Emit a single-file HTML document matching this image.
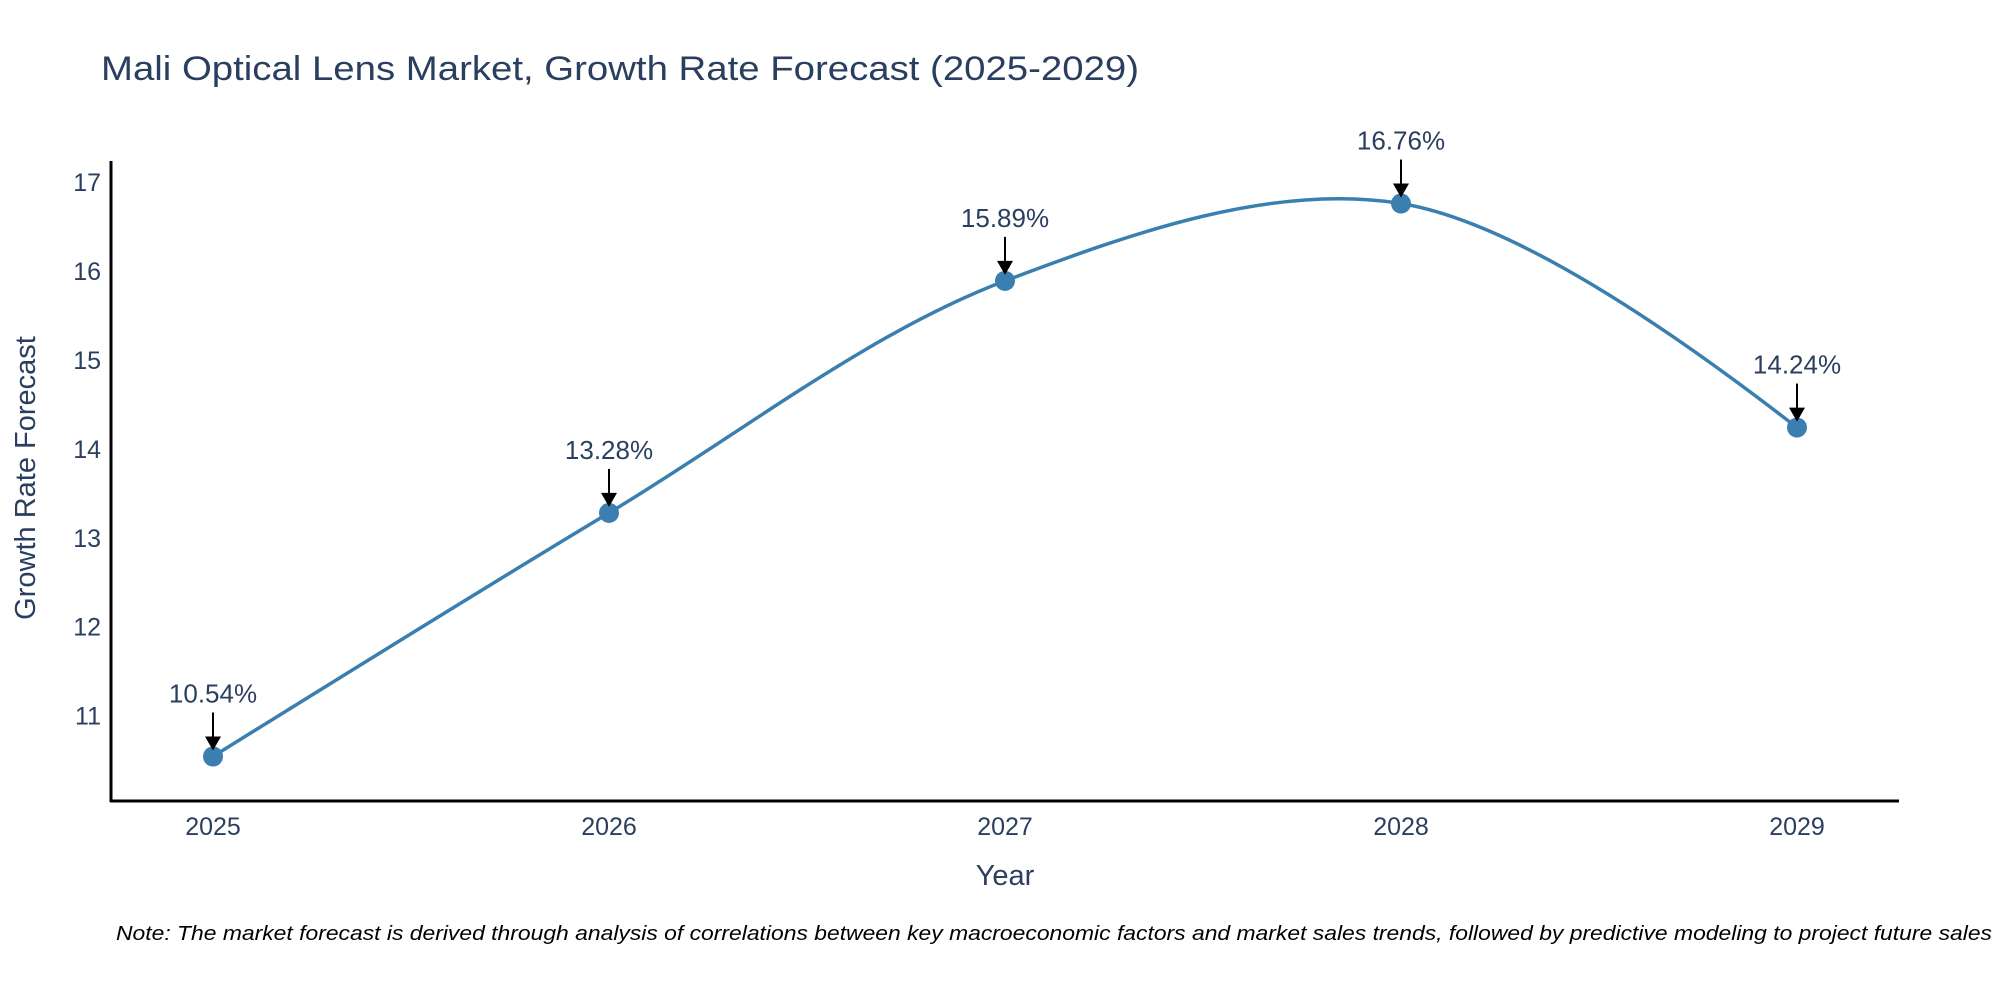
<!DOCTYPE html>
<html><head><meta charset="utf-8"><style>html,body{margin:0;padding:0;background:#fff}svg{display:block}text{font-family:"Liberation Sans",sans-serif}</style></head>
<body>
<svg id="chart" width="2000" height="1000" viewBox="0 0 2000 1000" xmlns="http://www.w3.org/2000/svg">
<text x="101" y="80" font-size="34" fill="#2a3f5f" textLength="1038" lengthAdjust="spacingAndGlyphs">Mali Optical Lens Market, Growth Rate Forecast (2025-2029)</text>
<g id="yticks"></g>
<g id="xticks"></g>
<line x1="111" y1="161" x2="111" y2="802" stroke="#000" stroke-width="3"/>
<line x1="110" y1="801" x2="1899" y2="801" stroke="#000" stroke-width="3"/>
<text transform="translate(35,478) rotate(-90)" text-anchor="middle" font-size="29" fill="#2a3f5f">Growth Rate Forecast</text>
<text x="1005" y="885" text-anchor="middle" font-size="29" fill="#2a3f5f">Year</text>
<g id="series"></g>
<g id="annots"></g>
<text x="116" y="940" font-size="20" font-style="italic" fill="#000" textLength="1876" lengthAdjust="spacingAndGlyphs">Note: The market forecast is derived through analysis of correlations between key macroeconomic factors and market sales trends, followed by predictive modeling to project future sales</text>
</svg>
<script>
const years = [2025, 2026, 2027, 2028, 2029];
const values = [10.54, 13.28, 15.89, 16.76, 14.24];
const labels = ["10.54%", "13.28%", "15.89%", "16.76%", "14.24%"];
const yTicks = [11, 12, 13, 14, 15, 16, 17];

const NS = "http://www.w3.org/2000/svg";
function xs(v){ return 213 + (v - 2025) * 396; }
function ys(v){ return 715.6 - (v - 11) * 88.9; }
function mk(tag, attrs, parent){ const e=document.createElementNS(NS,tag); for(const k in attrs) e.setAttribute(k,attrs[k]); parent.appendChild(e); return e; }

const yg=document.getElementById('yticks');
yTicks.forEach(t=>{
  const e=mk('text',{x:101,y:ys(t)+9,'text-anchor':'end','font-size':25,fill:'#2a3f5f'},yg);
  
  
  e.textContent=t;
});
const xg=document.getElementById('xticks');
years.forEach(y=>{
  const e=mk('text',{x:xs(y),y:835,'text-anchor':'middle','font-size':25,fill:'#2a3f5f'},xg);
  
  
  e.textContent=y;
});

const pts=years.map((y,i)=>[xs(y),ys(values[i])]);
const sm=1;
function tangent(p0,p1,p2){
  const d1x=p0[0]-p1[0],d1y=p0[1]-p1[1],d2x=p2[0]-p1[0],d2y=p2[1]-p1[1];
  const d1a=Math.pow(d1x*d1x+d1y*d1y,0.25),d2a=Math.pow(d2x*d2x+d2y*d2y,0.25);
  const nx=(d2a*d2a*d1x-d1a*d1a*d2x)*sm,ny=(d2a*d2a*d1y-d1a*d1a*d2y)*sm;
  const de1=3*d2a*(d1a+d2a),de2=3*d1a*(d1a+d2a);
  return [[p1[0]+nx/de1,p1[1]+ny/de1],[p1[0]-nx/de2,p1[1]-ny/de2]];
}
const tg=[];
for(let i=1;i<pts.length-1;i++) tg.push(tangent(pts[i-1],pts[i],pts[i+1]));
const f=p=>p[0].toFixed(1)+','+p[1].toFixed(1);
let d='M'+f(pts[0])+'Q'+f(tg[0][0])+' '+f(pts[1]);
for(let i=2;i<pts.length-1;i++) d+='C'+f(tg[i-2][1])+' '+f(tg[i-1][0])+' '+f(pts[i]);
d+='Q'+f(tg[tg.length-1][1])+' '+f(pts[pts.length-1]);
const sg=document.getElementById('series');
const line=mk('path',{d:d,fill:'none',stroke:'#3a7fb0','stroke-width':3.5},sg);


pts.forEach(p=>{
  const c=mk('circle',{cx:p[0],cy:p[1],r:10,fill:'#3a7fb0'},sg);
  
  
});
const ag=document.getElementById('annots');
pts.forEach((p,i)=>{
  const t=mk('text',{x:p[0],y:p[1]-54,'text-anchor':'middle','font-size':26,fill:'#2a3f5f'},ag);
  
  
  t.textContent=labels[i];
  const l=mk('line',{x1:p[0],y1:p[1]-44,x2:p[0],y2:p[1]-18,stroke:'#000','stroke-width':2},ag);
  
  
  const h=mk('path',{d:`M${p[0]-8},${p[1]-20}L${p[0]+8},${p[1]-20}L${p[0]},${p[1]-6}Z`,fill:'#000'},ag);
  
  
});
</script>
</body></html>
